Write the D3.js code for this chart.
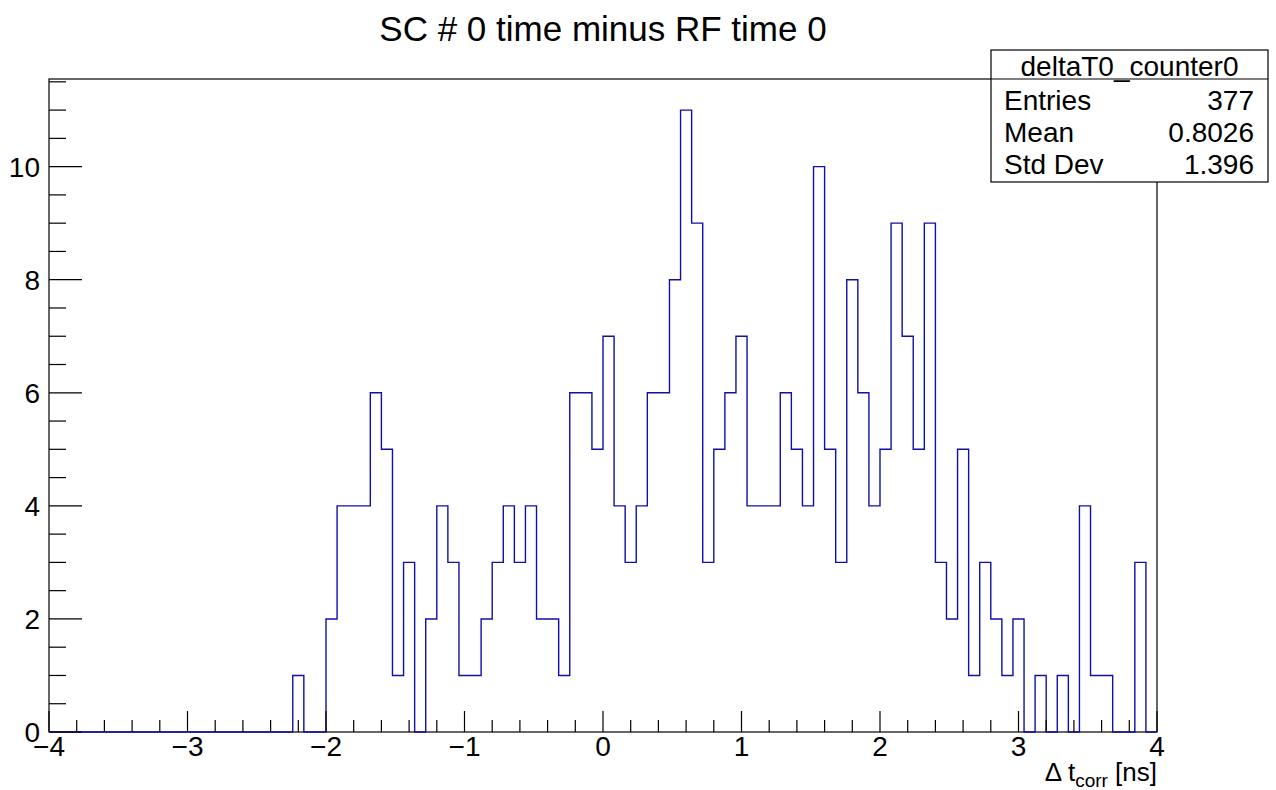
<!DOCTYPE html>
<html>
<head>
<meta charset="utf-8">
<script src="https://cdn.jsdelivr.net/npm/d3@7"></script>
<style>
  body { margin: 0; background: #fff; }
  text { font-family: "Liberation Sans", Arial, sans-serif; fill: #000; }
</style>
</head>
<body>
<div id="chart"></div>
<script>
// histogram deltaT0_counter0 : 100 bins from -4 to 4 ns
const xLow = -4, xHigh = 4;
const counts = [
  0, 0, 0, 0, 0, 0, 0, 0, 0, 0,
  0, 0, 0, 0, 0, 0, 0, 0, 0, 0,
  0, 0, 1, 0, 0, 2, 4, 4, 4, 6,
  5, 1, 3, 0, 2, 4, 3, 1, 1, 2,
  3, 4, 3, 4, 2, 2, 1, 6, 6, 5,
  7, 4, 3, 4, 6, 6, 8, 11, 9, 3,
  5, 6, 7, 4, 4, 4, 6, 5, 4, 10,
  5, 3, 8, 6, 4, 5, 9, 7, 5, 9,
  3, 2, 5, 1, 3, 2, 1, 2, 0, 1,
  0, 1, 0, 4, 1, 1, 0, 0, 3, 0
];
const xTicks = [-4, -3, -2, -1, 0, 1, 2, 3, 4];
const yTicks = [0, 2, 4, 6, 8, 10];
const statNames = ["Entries", "Mean", "Std Dev"];
const statValues = ["377", "0.8026", "1.396"];
const histName = "deltaT0_counter0";
const titleText = "SC # 0 time minus RF time 0";

const width = 1276, height = 790,
      margin = ({ top: 79, right: 119, bottom: 58, left: 49 });

let svg = d3.select("#chart")
    .append("svg")
    .attr("width", width)
    .attr("height", height);

let x = d3.scaleLinear()
    .domain([xLow, xHigh])
    .range([margin.left, width - margin.right]);

let yMax = d3.max(counts) * 1.05; // ROOT style headroom
let y = d3.scaleLinear()
    .domain([0, yMax])
    .range([height - margin.bottom, margin.top]);

const binW = (xHigh - xLow) / counts.length;

// frame
svg.append("rect")
    .attr("x", x(xLow)).attr("y", y(yMax))
    .attr("width", x(xHigh) - x(xLow))
    .attr("height", y(0) - y(yMax))
    .attr("fill", "none")
    .attr("stroke", "#000")
    .attr("stroke-width", 1.2);

// histogram outline as steps
let pts = [[xLow, 0]];
counts.forEach((c, i) => {
    pts.push([xLow + i * binW, c]);
    pts.push([xLow + (i + 1) * binW, c]);
});
pts.push([xHigh, 0]);

svg.append("path")
    .datum(pts)
    .attr("fill", "none")
    .attr("stroke", "#1010a8")
    .attr("stroke-width", 1.4)
    .attr("d", d3.line().x(d => x(d[0])).y(d => y(d[1])));

// x axis ticks
let xMinor = d3.range(xLow, xHigh + 0.001, 0.2);
svg.append("g").selectAll("line")
    .data(xMinor)
    .join("line")
    .attr("x1", d => x(d)).attr("x2", d => x(d))
    .attr("y1", y(0))
    .attr("y2", d => Math.abs(d - Math.round(d)) < 1e-6 ? y(0) - 21 : y(0) - 12)
    .attr("stroke", "#000").attr("stroke-width", 1.2);

svg.append("g").selectAll("text")
    .data(xTicks)
    .join("text")
    .attr("x", d => x(d))
    .attr("y", y(0) + 24)
    .attr("text-anchor", "middle")
    .style("font-size", "28px")
    .text(d => d < 0 ? "\u2212" + Math.abs(d) : d);

// y axis ticks
let yMinor = d3.range(0, yMax, 0.5);
svg.append("g").selectAll("line")
    .data(yMinor)
    .join("line")
    .attr("x1", x(xLow))
    .attr("x2", d => d % 2 === 0 ? x(xLow) + 33 : x(xLow) + 17)
    .attr("y1", d => y(d)).attr("y2", d => y(d))
    .attr("stroke", "#000").attr("stroke-width", 1.2);

svg.append("g").selectAll("text")
    .data(yTicks)
    .join("text")
    .attr("x", x(xLow) - 9)
    .attr("y", d => y(d) + 10)
    .attr("text-anchor", "end")
    .style("font-size", "28px")
    .text(d => d);

// title
svg.append("text")
    .attr("x", 603).attr("y", 41)
    .attr("text-anchor", "middle")
    .style("font-size", "35px")
    .text(titleText);

// x axis title with subscript
let xt = svg.append("text")
    .attr("x", x(xHigh)).attr("y", 781)
    .attr("text-anchor", "end")
    .style("font-size", "26px");
xt.append("tspan").text("\u0394 t");
xt.append("tspan").attr("dy", 6).style("font-size", "19px").text("corr");
xt.append("tspan").attr("dy", -6).text(" [ns]");

// stats box
const bx = 991, by = 50, bw = 277, bh = 132, hdr = 29;
let box = svg.append("g");
box.append("rect")
    .attr("x", bx).attr("y", by).attr("width", bw).attr("height", bh)
    .attr("fill", "#fff").attr("stroke", "#000").attr("stroke-width", 1.2);
box.append("line")
    .attr("x1", bx).attr("x2", bx + bw)
    .attr("y1", by + hdr).attr("y2", by + hdr)
    .attr("stroke", "#000").attr("stroke-width", 1.2);
box.append("text")
    .attr("x", bx + bw / 2).attr("y", by + 26)
    .attr("text-anchor", "middle")
    .style("font-size", "28px")
    .text(histName);

statNames.forEach((n, i) => {
    box.append("text")
        .attr("x", bx + 13).attr("y", by + 60 + i * 32)
        .style("font-size", "28px")
        .text(n);
    box.append("text")
        .attr("x", bx + bw - 14).attr("y", by + 60 + i * 32)
        .attr("text-anchor", "end")
        .style("font-size", "28px")
        .text(statValues[i]);
});
</script>
</body>
</html>
